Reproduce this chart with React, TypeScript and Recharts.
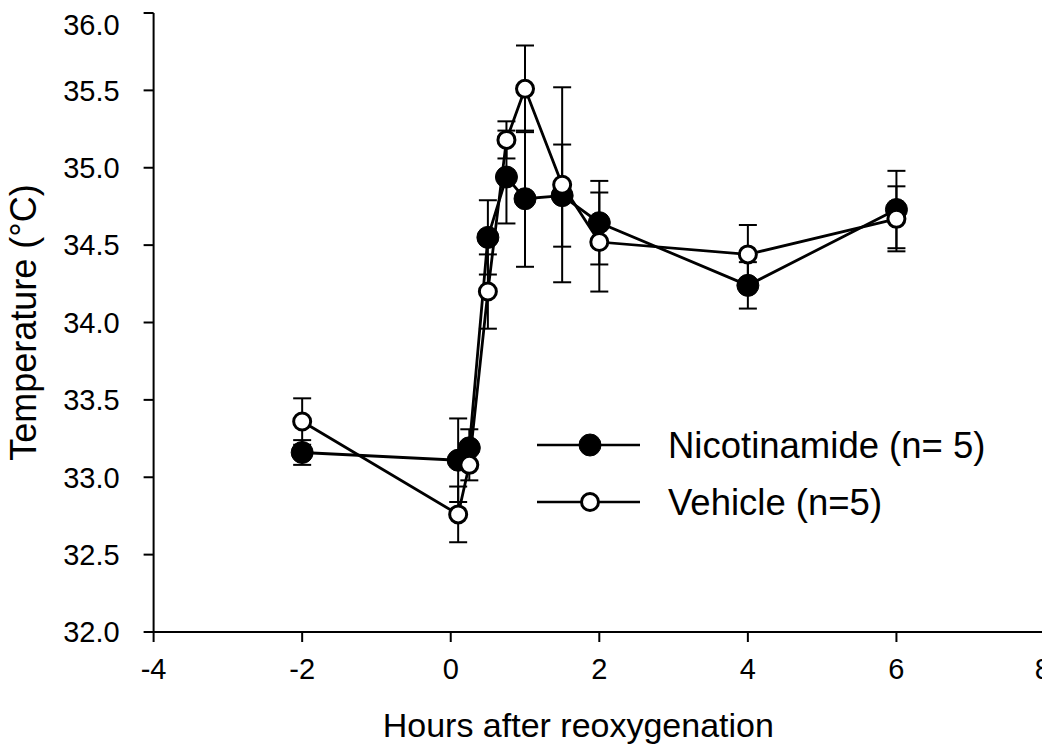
import React from 'react';
import { LineChart, Line, XAxis, YAxis, ErrorBar, Legend } from 'recharts';

const hours = [-2, 0.1, 0.25, 0.5, 0.75, 1, 1.5, 2, 4, 6];
const nicotinamideMean = [33.16, 33.11, 33.19, 34.55, 34.94, 34.8, 34.82, 34.645, 34.24, 34.73];
const nicotinamideErr = [0.08, 0.27, 0.12, 0.24, 0.3, 0.44, 0.33, 0.27, 0.15, 0.25];
const vehicleMean = [33.36, 32.76, 33.08, 34.2, 35.18, 35.51, 34.89, 34.52, 34.44, 34.67];
const vehicleErr = [0.15, 0.18, 0.1, 0.24, 0.12, 0.28, 0.63, 0.32, 0.19, 0.21];
const xTicks = [-4, -2, 0, 2, 4, 6, 8];
const yTicks = [32, 32.5, 33, 33.5, 34, 34.5, 35, 35.5, 36];
const seriesNames = ['Nicotinamide (n= 5)', 'Vehicle (n=5)'];

const nicData = hours.map((x, i) => ({ x, y: nicotinamideMean[i], err: nicotinamideErr[i] }));
const vehData = hours.map((x, i) => ({ x, y: vehicleMean[i], err: vehicleErr[i] }));

const FONT = '"Liberation Sans", Arial, Helvetica, sans-serif';

const LegendContent = () => (
  <svg width={480} height={120} style={{ display: 'block' }}>
    <line x1={0} y1={35} x2={103} y2={35} stroke="#000" strokeWidth={2.5} />
    <circle cx={53} cy={35} r={11} fill="#000" stroke="#000" strokeWidth={1} />
    <text x={131} y={35} dy="0.36em" fontSize={36.5} fontFamily={FONT} fill="#000">
      {seriesNames[0]}
    </text>
    <line x1={0} y1={92} x2={103} y2={92} stroke="#000" strokeWidth={2.5} />
    <circle cx={53} cy={92} r={8.5} fill="#fff" stroke="#000" strokeWidth={3} />
    <text x={131} y={92} dy="0.36em" fontSize={36.5} fontFamily={FONT} fill="#000">
      {seriesNames[1]}
    </text>
  </svg>
);

export default function App() {
  return (
    <LineChart
      width={1042}
      height={744}
      margin={{ top: 5, right: 5, left: 0, bottom: 0 }}
      style={{ fontFamily: FONT }}
    >
      <XAxis
        dataKey="x"
        type="number"
        domain={[-4, 8]}
        ticks={xTicks}
        height={120}
        tickSize={10}
        tickMargin={16}
        tick={{ fontSize: 29, fill: '#000', fontFamily: FONT }}
        axisLine={{ stroke: '#000', strokeWidth: 2 }}
        tickLine={{ stroke: '#000', strokeWidth: 2 }}
        allowDataOverflow
        label={{
          value: 'Hours after reoxygenation',
          position: 'insideBottom',
          offset: 15,
          dx: -21,
          style: { fontSize: 34, fill: '#000', fontFamily: FONT },
        }}
      />
      <YAxis
        type="number"
        domain={[32, 36]}
        ticks={yTicks}
        width={145.6}
        tickSize={10}
        tickMargin={24}
        tickFormatter={(v: number) => v.toFixed(1)}
        tick={{ fontSize: 29, fill: '#000', fontFamily: FONT }}
        axisLine={{ stroke: '#000', strokeWidth: 2 }}
        tickLine={{ stroke: '#000', strokeWidth: 2 }}
        allowDataOverflow
        label={{
          value: 'Temperature (°C)',
          position: 'insideLeft',
          angle: -90,
          offset: 15,
          style: { fontSize: 36, fill: '#000', fontFamily: FONT, textAnchor: 'middle' },
        }}
      />
      <Legend
        layout="horizontal"
        verticalAlign="middle"
        align="center"
        content={LegendContent}
        wrapperStyle={{ left: 529, top: 402, width: 480, height: 120 }}
      />
      <Line
        data={nicData}
        dataKey="y"
        name={seriesNames[0]}
        stroke="#000"
        strokeWidth={2.8}
        isAnimationActive={false}
        dot={{ r: 11, fill: '#000', stroke: '#000', strokeWidth: 1 }}
        activeDot={false}
      >
        <ErrorBar dataKey="err" width={9} stroke="#000" strokeWidth={2} isAnimationActive={false} />
      </Line>
      <Line
        data={vehData}
        dataKey="y"
        name={seriesNames[1]}
        stroke="#000"
        strokeWidth={2.8}
        isAnimationActive={false}
        dot={{ r: 8.5, fill: '#fff', stroke: '#000', strokeWidth: 3 }}
        activeDot={false}
      >
        <ErrorBar dataKey="err" width={9} stroke="#000" strokeWidth={2} isAnimationActive={false} />
      </Line>
    </LineChart>
  );
}
